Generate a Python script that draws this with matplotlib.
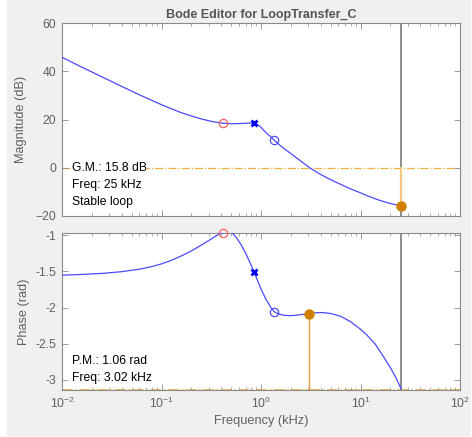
import numpy as np
from matplotlib import pyplot as plt
from matplotlib.patches import Rectangle
from matplotlib.ticker import LogLocator, NullFormatter

plt.rcParams['font.family'] = ['Liberation Sans', 'DejaVu Sans']

# values (frequency in kHz)
mag_freq = [0.01, 0.0158, 0.0251, 0.0398, 0.0631, 0.1, 0.126, 0.158, 0.2, 0.251,
            0.316, 0.398, 0.501, 0.631, 0.794, 0.851, 0.933, 1.0, 1.122, 1.259,
            1.352, 1.585, 1.995, 2.512, 3.09, 3.802, 4.571, 5.623, 6.761, 8.128,
            10.0, 12.59, 15.85, 19.95, 25.53]
mag_db = [45.9, 41.8, 37.8, 33.8, 29.9, 26.2, 24.5, 22.9, 21.5, 20.3,
          19.3, 18.6, 18.3, 18.4, 18.6, 18.6, 17.8, 16.8, 14.6, 12.8,
          11.55, 9.0, 5.9, 2.8, 0.0, -2.3, -4.1, -5.9, -7.4, -8.9,
          -10.4, -12.1, -13.6, -14.8, -15.8]

phase_freq = [0.01, 0.0158, 0.0251, 0.0398, 0.0631, 0.0794, 0.1, 0.126, 0.158, 0.2,
              0.251, 0.316, 0.355, 0.398, 0.447, 0.479, 0.513, 0.562, 0.631, 0.708,
              0.794, 0.851, 0.933, 1.0, 1.122, 1.259, 1.352, 1.479, 1.675, 1.905,
              2.113, 2.512, 3.055, 3.548, 4.169, 5.012, 6.31, 7.943, 10.0, 11.53,
              14.13, 16.94, 19.95, 22.91, 25.53]
phase_rad = [-1.552, -1.541, -1.527, -1.503, -1.463, -1.433, -1.395, -1.345, -1.285, -1.215,
             -1.135, -1.050, -1.005, -0.970, -0.950, -0.947, -0.965, -1.025, -1.13, -1.26,
             -1.41, -1.509, -1.64, -1.745, -1.885, -2.0, -2.055, -2.085, -2.105, -2.112,
             -2.11, -2.098, -2.083, -2.072, -2.069, -2.082, -2.12, -2.195, -2.30, -2.376,
             -2.51, -2.675, -2.83, -2.98, -3.124]

zero_freq = 0.412   # red circle
pole_freq = 0.851   # blue cross
zero2_freq = 1.352  # blue circle
gm_freq, gm_db = 25.53, -15.8
pm_freq, pm_rad = 3.055, -2.083

mag_yticks = [-20, 0, 20, 40, 60]
phase_yticks = [-3, -2.5, -2, -1.5, -1]
phase_yticklabels = ['-3', '-2.5', '-2', '-1.5', '-1']

gm_text = ['G.M.: 15.8 dB', 'Freq: 25 kHz', 'Stable loop']
pm_text = ['P.M.: 1.06 rad', 'Freq: 3.02 kHz']

BG = '#f0f0f0'
AXC = '#8a8a8a'
TXT = '#606060'
BLUE = '#4a4aff'
ORANGE = '#d08000'
LORANGE = '#f0b040'
FS = 8.7

fig = plt.figure(figsize=(4.72, 4.37), dpi=100, facecolor='white')
fig.patches.append(Rectangle((7 / 472, 2 / 437), 463 / 472, 435 / 437,
                             transform=fig.transFigure, color=BG, zorder=-10))

ax1 = fig.add_axes([62 / 472, 1 - 216 / 437, 398 / 472, 192.7 / 437])
ax2 = fig.add_axes([62 / 472, 1 - 390 / 437, 398 / 472, 157.3 / 437])


def style(ax):
    ax.set_xscale('log')
    ax.set_xlim(1e-2, 1e2)
    ax.xaxis.set_major_locator(LogLocator(base=10, numticks=10))
    ax.xaxis.set_minor_locator(LogLocator(base=10, subs=np.arange(2, 10), numticks=10))
    ax.xaxis.set_minor_formatter(NullFormatter())
    ax.tick_params(which='both', direction='in', top=True, right=True, colors=AXC,
                   labelcolor=TXT, labelsize=FS, pad=4)
    ax.tick_params(which='major', length=4, width=0.6)
    ax.tick_params(which='minor', length=2, width=0.5)
    for s in ax.spines.values():
        s.set_color(AXC)
        s.set_linewidth(0.8)


def on_curve(f, xs, ys):
    return np.interp(np.log10(f), np.log10(xs), ys)


# magnitude
style(ax1)
ax1.set_ylim(-20, 60)
ax1.set_yticks(mag_yticks)
ax1.tick_params(axis='x', labelbottom=False)
ax1.axhline(0, color=LORANGE, lw=0.9, ls='-.', zorder=1)
ax1.axvline(gm_freq, color='#8c8c8c', lw=1.4, zorder=2)
ax1.plot([gm_freq, gm_freq], [gm_db, 0], color='#f5c680', lw=1.6, zorder=2)
ax1.plot(mag_freq, mag_db, color=BLUE, lw=0.9, zorder=3)
ax1.plot(zero_freq, on_curve(zero_freq, mag_freq, mag_db), 'o',
         mfc='none', mec='#ff6060', ms=6, mew=0.9, zorder=4)
ax1.plot(pole_freq, on_curve(pole_freq, mag_freq, mag_db), 'x',
         color='#0000ee', ms=5, mew=2, zorder=4)
ax1.plot(zero2_freq, on_curve(zero2_freq, mag_freq, mag_db), 'o',
         mfc='none', mec='#5050ff', ms=6, mew=0.9, zorder=4)
ax1.plot(gm_freq, gm_db, 'o', color=ORANGE, ms=6.5, zorder=5, clip_on=False)
ax1.set_ylabel('Magnitude (dB)', color=TXT, fontsize=FS + 0.5, labelpad=6)
ax1.set_title('Bode Editor for LoopTransfer_C', color='#555555', fontsize=FS + 0.3,
              fontweight='bold', pad=4)
for i, t in enumerate(gm_text):
    ax1.text(71.5 / 472, 1 - (168.5 + 16.5 * i) / 437, t, transform=fig.transFigure,
             fontsize=FS, color='black', va='center', ha='left', zorder=6,
             bbox=dict(facecolor='white', edgecolor='none', pad=0.5))

# phase
style(ax2)
ax2.set_ylim(-np.pi, -0.963)
ax2.set_yticks(phase_yticks)
ax2.set_yticklabels(phase_yticklabels)
ax2.axhline(-np.pi, color=LORANGE, lw=1.2, ls='-.', zorder=1, clip_on=False)
ax2.axvline(gm_freq, color='#8c8c8c', lw=1.4, zorder=2)
ax2.plot([pm_freq, pm_freq], [-np.pi, pm_rad], color='#e0a040', lw=1.0, zorder=2)
ax2.plot(phase_freq, phase_rad, color=BLUE, lw=0.9, zorder=3)
ax2.plot(zero_freq, on_curve(zero_freq, phase_freq, phase_rad), 'o',
         mfc='none', mec='#ff6060', ms=6, mew=0.9, zorder=4, clip_on=False)
ax2.plot(pole_freq, on_curve(pole_freq, phase_freq, phase_rad), 'x',
         color='#0000ee', ms=5, mew=2, zorder=4)
ax2.plot(zero2_freq, on_curve(zero2_freq, phase_freq, phase_rad), 'o',
         mfc='none', mec='#5050ff', ms=6, mew=0.9, zorder=4)
ax2.plot(pm_freq, pm_rad, 'o', color=ORANGE, ms=6.5, zorder=5)
ax2.set_ylabel('Phase (rad)', color=TXT, fontsize=FS + 0.5, labelpad=4)
ax2.set_xlabel('Frequency (kHz)', color=TXT, fontsize=FS + 0.5, labelpad=3)
for i, t in enumerate(pm_text):
    ax2.text(71.5 / 472, 1 - (361.5 + 16.5 * i) / 437, t, transform=fig.transFigure,
             fontsize=FS, color='black', va='center', ha='left', zorder=6,
             bbox=dict(facecolor='white', edgecolor='none', pad=0.5))

fig.savefig('out.png', dpi=100, facecolor=fig.get_facecolor())
